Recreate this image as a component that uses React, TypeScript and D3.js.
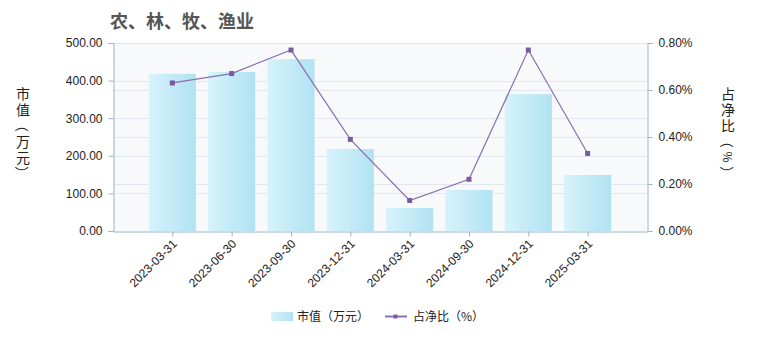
import React, { useEffect, useRef } from "react";
import * as d3 from "d3";

const categories = [
  "2023-03-31",
  "2023-06-30",
  "2023-09-30",
  "2023-12-31",
  "2024-03-31",
  "2024-09-30",
  "2024-12-31",
  "2025-03-31",
];
const marketValue = [418, 423, 457, 218, 61, 109, 364, 149];
const netRatio = [0.63, 0.67, 0.77, 0.39, 0.13, 0.22, 0.77, 0.33];
const leftTicks = [0, 100, 200, 300, 400, 500];
const rightTicks = [0, 0.2, 0.4, 0.6, 0.8];

const title = "农、林、牧、渔业";
const leftTitle = "市值（万元）";
const rightTitle = "占净比（%）";

const App = () => {
  const svgRef = useRef<SVGSVGElement | null>(null);

  useEffect(() => {
    const width = 760;
    const height = 340;
    const plot = { left: 113, right: 647, top: 43, bottom: 231 };
    const font = "'Liberation Sans', Arial, sans-serif";
    const cjk = "'Noto Sans CJK SC', sans-serif";
    const axisColor = "#9ab4c8";

    const svg = d3.select(svgRef.current);
    svg.selectAll("*").remove();
    svg.attr("width", width).attr("height", height);

    // scales
    const x = d3
      .scalePoint<string>()
      .domain(categories)
      .range([plot.left, plot.right])
      .padding(1);
    const yL = d3.scaleLinear().domain([0, 500]).range([plot.bottom, plot.top]);
    const yR = d3.scaleLinear().domain([0, 0.8]).range([plot.bottom, plot.top]);

    // gradient for bars
    const defs = svg.append("defs");
    const grad = defs
      .append("linearGradient")
      .attr("id", "barGrad")
      .attr("x1", "0")
      .attr("x2", "1")
      .attr("y1", "0")
      .attr("y2", "0");
    grad.append("stop").attr("offset", "0%").attr("stop-color", "#d6f3fb");
    grad.append("stop").attr("offset", "100%").attr("stop-color", "#b1e2f2");

    // background
    svg
      .append("rect")
      .attr("x", plot.left)
      .attr("y", plot.top)
      .attr("width", plot.right - plot.left)
      .attr("height", plot.bottom - plot.top)
      .attr("fill", "#f8f9fb");

    // grid lines (both axes)
    const grid = svg.append("g").attr("stroke", "#e2e7ef").attr("stroke-width", 1);
    [...leftTicks.slice(1).map((t) => yL(t)), ...rightTicks.slice(1).map((t) => yR(t))].forEach(
      (py) => {
        grid
          .append("line")
          .attr("x1", plot.left)
          .attr("x2", plot.right)
          .attr("y1", Math.round(py) + 0.5)
          .attr("y2", Math.round(py) + 0.5);
      }
    );

    // bars
    const barW = 47;
    svg
      .append("g")
      .selectAll("rect")
      .data(marketValue)
      .enter()
      .append("rect")
      .attr("x", (_, i) => (x(categories[i]) as number) - barW / 2)
      .attr("y", (d) => yL(d))
      .attr("width", barW)
      .attr("height", (d) => plot.bottom - yL(d))
      .attr("fill", "url(#barGrad)");

    // left axis
    const leftAxis = svg
      .append("g")
      .attr("transform", `translate(${plot.left + 0.5},0)`)
      .call(
        d3
          .axisLeft(yL)
          .tickValues(leftTicks)
          .tickSize(5)
          .tickPadding(6)
          .tickFormat(d3.format(".2f"))
      );
    leftAxis.select(".domain").attr("stroke", axisColor);
    leftAxis.selectAll(".tick line").attr("stroke", axisColor);
    leftAxis
      .selectAll("text")
      .style("font-family", font)
      .style("font-size", "12px")
      .style("fill", "#222");

    // right axis
    const rightAxis = svg
      .append("g")
      .attr("transform", `translate(${plot.right + 0.5},0)`)
      .call(
        d3
          .axisRight(yR)
          .tickValues(rightTicks)
          .tickSize(5)
          .tickPadding(6)
          .tickFormat((d) => `${(+d).toFixed(2)}%`)
      );
    rightAxis.select(".domain").attr("stroke", axisColor);
    rightAxis.selectAll(".tick line").attr("stroke", axisColor);
    rightAxis
      .selectAll("text")
      .style("font-family", font)
      .style("font-size", "12px")
      .style("fill", "#222");

    // x axis
    const xAxis = svg
      .append("g")
      .attr("transform", `translate(0,${plot.bottom + 0.5})`)
      .call(d3.axisBottom(x).tickSize(5).tickSizeOuter(0));
    xAxis.select(".domain").attr("stroke", axisColor);
    xAxis.selectAll(".tick line").attr("stroke", axisColor);
    xAxis
      .selectAll("text")
      .style("font-family", font)
      .style("font-size", "12px")
      .style("fill", "#222")
      .attr("text-anchor", "end")
      .attr("x", 0)
      .attr("y", 0)
      .attr("dy", "0.35em")
      .attr("transform", "translate(2,10) rotate(-45)");

    // line
    const line = d3
      .line<number>()
      .x((_, i) => x(categories[i]) as number)
      .y((d) => yR(d));
    svg
      .append("path")
      .datum(netRatio)
      .attr("d", line)
      .attr("fill", "none")
      .attr("stroke", "#8a6fb0")
      .attr("stroke-width", 1.2);
    svg
      .append("g")
      .selectAll("rect")
      .data(netRatio)
      .enter()
      .append("rect")
      .attr("x", (_, i) => (x(categories[i]) as number) - 2.5)
      .attr("y", (d) => yR(d) - 2.5)
      .attr("width", 5)
      .attr("height", 5)
      .attr("fill", "#7a5a9f");

    // title
    svg
      .append("text")
      .attr("x", 110)
      .attr("y", 28)
      .style("font-family", cjk)
      .style("font-weight", "bold")
      .style("font-size", "18px")
      .style("fill", "#555")
      .text(title);

    // vertical axis titles, one char per 16px cell
    const vText = (str: string, cx: number, y0: number) => {
      const g = svg.append("g");
      Array.from(str).forEach((c, i) => {
        const cy = y0 + i * 16;
        const rot = c === "（" || c === "）" || c === "%";
        const t = g
          .append("text")
          .attr("x", cx)
          .attr("y", cy)
          .attr("text-anchor", "middle")
          .attr("dominant-baseline", "central")
          .style("font-family", cjk)
          .style("font-size", c === "%" ? "12px" : "14px")
          .style("fill", "#222")
          .text(c);
        if (rot) t.attr("transform", `rotate(90,${cx},${cy})`);
      });
    };
    vText(leftTitle, 23, 93);
    vText(rightTitle, 728, 93);

    // legend
    const lg = svg.append("g");
    lg.append("rect")
      .attr("x", 271)
      .attr("y", 312)
      .attr("width", 22)
      .attr("height", 9)
      .attr("fill", "url(#barGrad)");
    lg.append("text")
      .attr("x", 297)
      .attr("y", 321)
      .style("font-family", cjk)
      .style("font-size", "12px")
      .style("fill", "#222")
      .text("市值（万元）");
    lg.append("line")
      .attr("x1", 385)
      .attr("x2", 407)
      .attr("y1", 316.5)
      .attr("y2", 316.5)
      .attr("stroke", "#8a6fb0")
      .attr("stroke-width", 2);
    lg.append("rect")
      .attr("x", 393.5)
      .attr("y", 314.5)
      .attr("width", 4)
      .attr("height", 4)
      .attr("fill", "#7a5a9f");
    lg.append("text")
      .attr("x", 413)
      .attr("y", 321)
      .style("font-family", cjk)
      .style("font-size", "12px")
      .style("fill", "#222")
      .text("占净比（%）");
  }, []);

  return (
    <div style={{ margin: -8 }}>
      <svg ref={svgRef}></svg>
    </div>
  );
};

export default App;
